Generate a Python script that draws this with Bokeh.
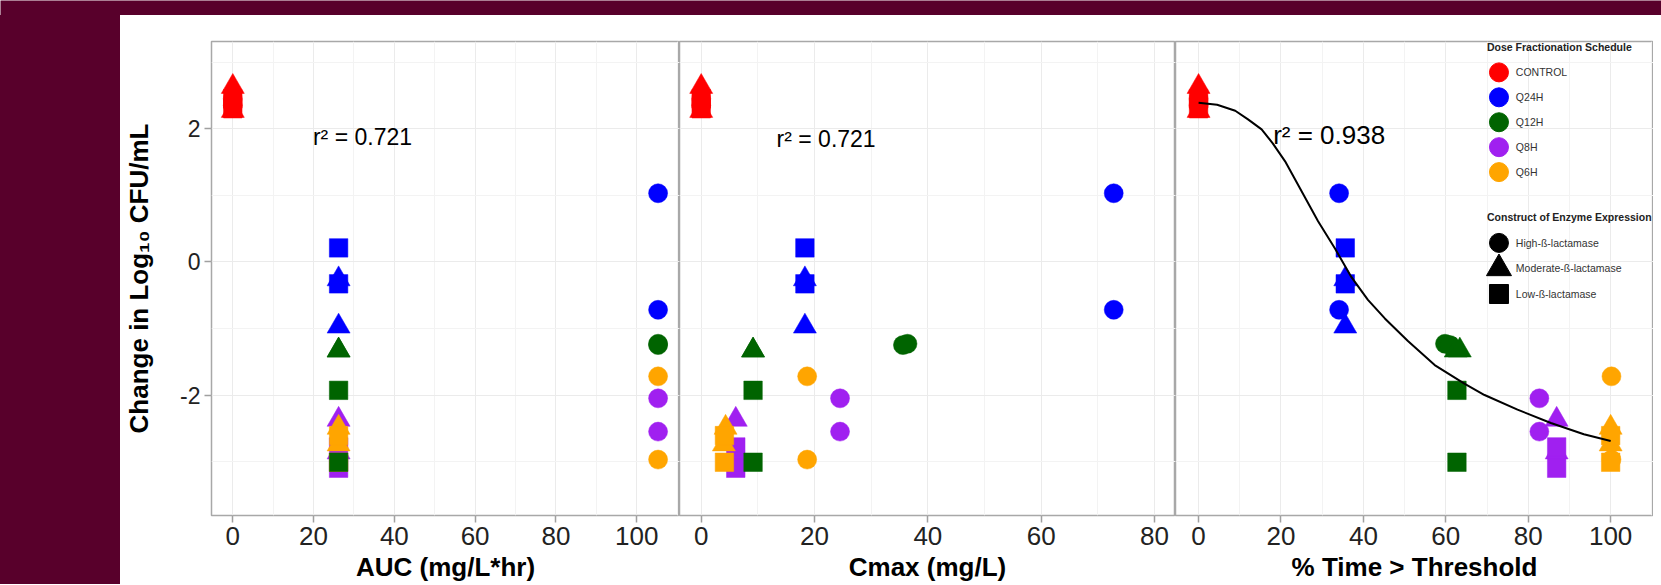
import numpy as np
from bokeh.plotting import figure
from bokeh.models import ColumnDataSource, FixedTicker, Grid, Range1d, Div
from bokeh.layouts import row, column
from bokeh.embed import file_html
from bokeh.resources import INLINE
from bokeh.core.properties import value

# ---------------- data ----------------
schedules = ["CONTROL", "Q24H", "Q12H", "Q8H", "Q6H"]
schedule_colors = ["#FF0000", "#0000FF", "#006400", "#A020F0", "#FFA500"]
constructs = ["High-\u00df-lactamase", "Moderate-\u00df-lactamase", "Low-\u00df-lactamase"]
construct_markers = ["circle", "triangle", "square"]
construct_sizes = [19, 23, 18.5]

# one entry per observation (drawing order = row order)
pt_schedule = ["CONTROL"] * 6 + ["Q24H"] * 6 + ["Q8H"] * 6 + ["Q6H"] * 6 + ["Q12H"] * 6
pt_construct = [0, 0, 1, 1, 2, 2] * 5
pt_auc = [0, 0, 0, 0, 0, 0,
          105.3, 105.3, 26.2, 26.2, 26.2, 26.2,
          105.3, 105.3, 26.2, 26.2, 26.2, 26.2,
          105.3, 105.3, 26.2, 26.2, 26.2, 26.2,
          105.3, 105.3, 26.2, 26.2, 26.2, 26.2]
pt_cmax = [0, 0, 0, 0, 0, 0,
           72.8, 72.8, 18.3, 18.3, 18.3, 18.3,
           24.5, 24.5, 6.1, 6.1, 6.1, 6.1,
           18.7, 18.7, 4.3, 4.0, 4.1, 4.1,
           36.4, 35.6, 9.15, 9.15, 9.15, 9.15]
pt_time = [0, 0, 0, 0, 0, 0,
           34.1, 34.1, 35.6, 35.6, 35.6, 35.6,
           82.7, 82.7, 86.9, 86.9, 86.9, 86.9,
           100.2, 100.2, 100.0, 100.0, 100.0, 100.0,
           59.8, 61.0, 62.4, 63.4, 62.7, 62.7]
pt_change = [2.45, 2.35, 2.63, 2.27, 2.45, 2.30,
             1.03, -0.72, -0.26, -0.97, 0.21, -0.33,
             -2.05, -2.55, -2.37, -2.86, -2.78, -3.10,
             -1.72, -2.97, -2.49, -2.74, -2.61, -3.01,
             -1.23, -1.25, -1.33, -1.33, -1.93, -3.01]

# fitted curve
curve_x = [0, 4.5, 8.9, 12.0, 15.3, 18.0, 21.0, 25.0, 29.0, 33.1, 37.1, 41.1, 45.2,
           50.8, 57.3, 64.5, 69.4, 77.4, 85.5, 93.5, 100]
curve_y = [2.39, 2.36, 2.27, 2.14, 1.99, 1.78, 1.51, 1.06, 0.61, 0.20, -0.23, -0.57,
           -0.85, -1.19, -1.55, -1.83, -2.00, -2.22, -2.42, -2.59, -2.69]

r2_labels = ["r\u00b2 = 0.721", "r\u00b2 = 0.721", "r\u00b2 = 0.938"]
r2_pos = [(19.85, 1.87), (13.3, 1.85), (18.1, 1.90)]
r2_sizes = ["23px", "23px", "26px"]

x_titles = ["AUC (mg/L*hr)", "Cmax (mg/L)", "% Time > Threshold"]
x_ticks = [[0, 20, 40, 60, 80, 100], [0, 20, 40, 60, 80], [0, 20, 40, 60, 80, 100]]
x_minor = [[10, 30, 50, 70, 90, 110], [10, 30, 50, 70], [10, 30, 50, 70, 90, 110]]
x_ranges = [(-5.27, 110.6), (-3.83, 83.7), (-5.6, 110.4)]
y_ticks = [-2, 0, 2]
y_tick_text = ["-2", "0", "2"]
y_minor = [-3, -1, 1, 3]
y_range = (-3.81, 3.31)

legend1_title = "Dose Fractionation Schedule"
legend2_title = "Construct of Enzyme Expression"

# legend placement inside the %Time panel (panel data units)
LEG_GLYPH_X, LEG_LABEL_X, LEG_TITLE_X = 72.9, 77.0, 70.0
LEG1_TITLE_Y, LEG1_Y0, LEG1_STEP = 3.22, 2.846, 0.3745
LEG2_TITLE_Y, LEG2_Y0, LEG2_STEP = 0.674, 0.285, 0.384
legend2_sizes = [19, 25, 19]

FONT = "Liberation Sans"
MAROON = "#58002B"

colors = [schedule_colors[schedules.index(s)] for s in pt_schedule]
markers = [construct_markers[c] for c in pt_construct]
sizes = [construct_sizes[c] for c in pt_construct]

widths = [559, 496, 478]
left_borders = [91, 0, 0]
LEFT_W = 120
TOP_H = 15
FIG_H = 569

figs = []
for i in range(3):
    xs = [pt_auc, pt_cmax, pt_time][i]
    p = figure(width=widths[i], height=FIG_H,
               x_range=Range1d(*x_ranges[i]), y_range=Range1d(*y_range),
               output_backend="svg", toolbar_location=None,
               min_border_left=left_borders[i], min_border_right=0,
               min_border_top=26, min_border_bottom=68,
               y_axis_location="left" if i == 0 else None)
    p.background_fill_color = "white"
    p.border_fill_color = "white"
    p.outline_line_color = "#a8a8a8"
    p.outline_line_width = 1.5

    xa = p.xaxis[0]
    xa.ticker = FixedTicker(ticks=x_ticks[i], minor_ticks=x_minor[i])
    xa.axis_line_color = None
    xa.major_tick_line_color = "#a0a0a0"
    xa.major_tick_line_width = 1.5
    xa.major_tick_out = 7
    xa.major_tick_in = 0
    xa.minor_tick_line_color = None
    xa.major_label_standoff = 4
    xa.major_label_text_font = FONT
    xa.major_label_text_font_size = "26px"
    xa.major_label_text_color = "#222222"
    xa.axis_label = x_titles[i]
    xa.axis_label_text_font = FONT
    xa.axis_label_text_font_size = "26px"
    xa.axis_label_text_font_style = "bold"
    xa.axis_label_text_color = "#000000"
    xa.axis_label_standoff = 4

    p.xgrid.grid_line_color = "#ebebeb"
    p.xgrid.minor_grid_line_color = "#f3f3f3"

    if i == 0:
        ya = p.yaxis[0]
        ya.ticker = FixedTicker(ticks=y_ticks, minor_ticks=y_minor)
        ya.major_label_overrides = dict(zip(y_ticks, y_tick_text))
        ya.axis_line_color = None
        ya.major_tick_line_color = "#a0a0a0"
        ya.major_tick_line_width = 1.5
        ya.major_tick_out = 7
        ya.major_tick_in = 0
        ya.minor_tick_line_color = None
        ya.major_label_standoff = 4
        ya.major_label_text_font = FONT
        ya.major_label_text_font_size = "23px"
        ya.major_label_text_color = "#222222"
        ya.axis_label = "Change in Log\u2081\u2080 CFU/mL"
        ya.axis_label_text_font = FONT
        ya.axis_label_text_font_size = "26px"
        ya.axis_label_text_font_style = "bold"
        ya.axis_label_text_color = "#000000"
        ya.axis_label_standoff = 23
        p.ygrid.grid_line_color = "#ebebeb"
        p.ygrid.minor_grid_line_color = "#f3f3f3"
    else:
        g = Grid(dimension=1, ticker=FixedTicker(ticks=y_ticks, minor_ticks=y_minor),
                 grid_line_color="#ebebeb", minor_grid_line_color="#f3f3f3")
        p.add_layout(g, "center")

    src = ColumnDataSource(dict(x=xs, y=pt_change, color=colors, marker=markers, size=sizes))
    p.scatter("x", "y", source=src, marker="marker", size="size",
              fill_color="color", line_color="color", line_width=0.5)

    if i == 2:
        p.line(curve_x, curve_y, line_color="black", line_width=2)

    tx, ty = r2_pos[i]
    p.text(x=[tx], y=[ty], text=[r2_labels[i]], text_font=value(FONT),
           text_font_size=r2_sizes[i], text_baseline="middle", text_align="left",
           text_color="black")
    figs.append(p)

# ---------------- legend drawn inside the third panel ----------------
p3 = figs[2]
n1 = len(schedules)
leg1 = ColumnDataSource(dict(
    x=[LEG_GLYPH_X] * n1,
    y=[LEG1_Y0 - k * LEG1_STEP for k in range(n1)],
    lx=[LEG_LABEL_X] * n1,
    color=schedule_colors, label=schedules))
p3.scatter("x", "y", source=leg1, marker="circle", size=19,
           fill_color="color", line_color="color")
p3.text("lx", "y", text="label", source=leg1, text_font=value(FONT),
        text_font_size="10.5px", text_color="#333333", text_baseline="middle")

n2 = len(constructs)
leg2 = ColumnDataSource(dict(
    x=[LEG_GLYPH_X] * n2,
    y=[LEG2_Y0 - k * LEG2_STEP for k in range(n2)],
    lx=[LEG_LABEL_X] * n2,
    marker=construct_markers, size=legend2_sizes, label=constructs))
p3.scatter("x", "y", source=leg2, marker="marker", size="size",
           fill_color="black", line_color="black")
p3.text("lx", "y", text="label", source=leg2, text_font=value(FONT),
        text_font_size="10.5px", text_color="#333333", text_baseline="middle")

p3.text(x=[LEG_TITLE_X, LEG_TITLE_X], y=[LEG1_TITLE_Y, LEG2_TITLE_Y],
        text=[legend1_title, legend2_title], text_font=value(FONT),
        text_font_size="10.5px", text_font_style="bold", text_color="#222222",
        text_baseline="middle", text_align="left")


# ---------------- maroon page background strips ----------------
top_strip = figure(width=LEFT_W + sum(widths) + 8, height=TOP_H, output_backend="svg",
                   toolbar_location=None, x_axis_location=None, y_axis_location=None,
                   min_border=0, x_range=Range1d(0, 1), y_range=Range1d(0, 1))
top_strip.min_border_left = top_strip.min_border_right = 0
top_strip.min_border_top = top_strip.min_border_bottom = 0
top_strip.outline_line_color = None
top_strip.background_fill_color = MAROON
top_strip.border_fill_color = MAROON
top_strip.xgrid.visible = False
top_strip.ygrid.visible = False
top_strip.grid.grid_line_color = None

left_strip = Div(text="", width=LEFT_W, height=FIG_H, margin=0,
                 styles={"background-color": MAROON})

layout = column(top_strip, row(left_strip, *figs, spacing=0), spacing=0)

open("out.html", "w").write(file_html(layout, INLINE))
